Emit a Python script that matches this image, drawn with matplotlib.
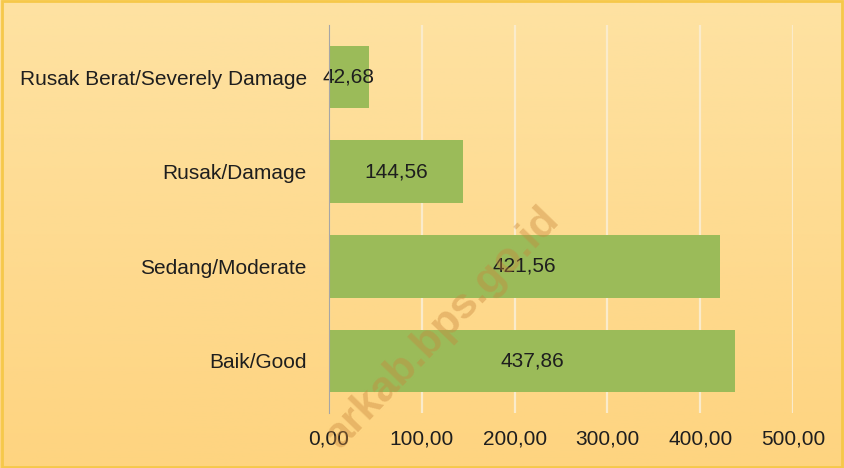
import numpy as np
import matplotlib.pyplot as plt

# data
kategori = ['Baik/Good', 'Sedang/Moderate', 'Rusak/Damage', 'Rusak Berat/Severely Damage']
panjang = [437.86, 421.56, 144.56, 42.68]
ticks = [0, 100, 200, 300, 400, 500]

plt.rcParams['font.family'] = ['Liberation Sans', 'DejaVu Sans']

fig = plt.figure(figsize=(8.44, 4.68), dpi=100)

# gradient background
bg = fig.add_axes([0, 0, 1, 1], zorder=0)
top = np.array([254, 226, 162]) / 255
bot = np.array([254, 212, 128]) / 255
t = np.linspace(0, 1, 200)[:, None]
grad = top * (1 - t) + bot * t
bg.imshow(grad[:, None, :].repeat(2, axis=1), aspect='auto', extent=[0, 1, 0, 1])
bg.set_axis_off()
bg.add_patch(plt.Rectangle((0.002, 0.003), 0.996, 0.994, fill=False,
                           edgecolor='#F6C84A', linewidth=2, transform=bg.transAxes))

ax = fig.add_axes([329 / 844, 1 - 413 / 468, (793 - 329) / 844, (413 - 25) / 468], zorder=1)
ax.patch.set_alpha(0)
ax.set_xlim(0, 500)
ax.set_ylim(-0.55, 3.55)

y = np.arange(len(kategori))
ax.barh(y, panjang, height=0.66, color='#9BBB59', zorder=2)
for yi, v in zip(y, panjang):
    ax.text(v / 2, yi, f"{v:.2f}".replace('.', ','), ha='center', va='center',
            fontsize=15, color='#1E1E1E', zorder=3)

ax.set_xticks(ticks)
ax.set_xticklabels([f"{v:.2f}".replace('.', ',') for v in ticks], fontsize=15, color='#1E1E1E')
ax.set_yticks(y)
ax.set_yticklabels(kategori, fontsize=15, color='#1E1E1E')
ax.tick_params(length=0, pad=12)
ax.tick_params(axis='y', pad=16)
ax.grid(axis='x', color='#FAEBCB', linewidth=1.6, zorder=1)
ax.set_axisbelow(True)
for s in ['top', 'right', 'bottom']:
    ax.spines[s].set_visible(False)
ax.spines['left'].set_color('#A6A6A6')
ax.spines['left'].set_linewidth(0.8)
ax.spines['left'].set_zorder(4)

# watermark
fig.text(553 / 844, 1 - 214 / 468, 'arkab.bps.go.id', rotation=46, rotation_mode='anchor',
         fontsize=31, fontweight='bold', color='#C8863C', alpha=0.40,
         ha='right', va='center', zorder=5)

fig.savefig('out.png', dpi=100)
